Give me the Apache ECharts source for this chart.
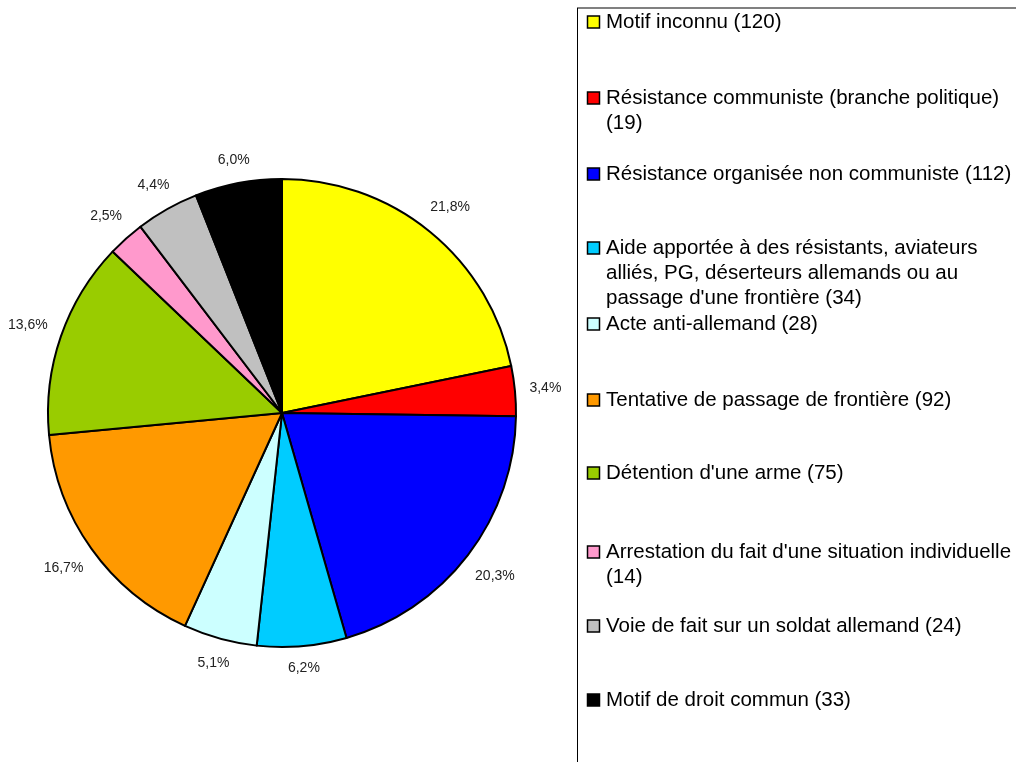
<!DOCTYPE html>
<html><head><meta charset="utf-8">
<script src="https://cdn.jsdelivr.net/npm/echarts@6/dist/echarts.min.js"></script>
<style>html,body{margin:0;padding:0;background:#fff}#c{width:1016px;height:762px}</style>
</head><body><div id="c"></div>
<script>
const categories = [
  "Motif inconnu (120)",
  "Résistance communiste (branche politique)\n(19)",
  "Résistance organisée non communiste (112)",
  "Aide apportée à des résistants, aviateurs\nalliés, PG, déserteurs allemands ou au\npassage d'une frontière (34)",
  "Acte anti-allemand (28)",
  "Tentative de passage de frontière (92)",
  "Détention d'une arme (75)",
  "Arrestation du fait d'une situation individuelle\n(14)",
  "Voie de fait sur un soldat allemand (24)",
  "Motif de droit commun (33)"
];
const values = [120, 19, 112, 34, 28, 92, 75, 14, 24, 33];
const colors = ["#FFFF00","#FF0000","#0000FF","#00CCFF","#CCFFFF","#FF9900","#99CC00","#FF99CC","#C0C0C0","#000000"];
const legendY = [22, 98, 174, 248, 324, 400, 473, 552, 626, 700];

const FONT = '"Liberation Sans", Arial, sans-serif';
const R = 234;
const total = values.reduce((a,b)=>a+b,0);
const pct = v => (v/total*100).toFixed(1).replace('.', ',') + '%';

// label placement outside the pie, box edge a small gap from the rim
const ctx = document.createElement('canvas').getContext('2d');
ctx.font = '14px ' + FONT;
let cum = 0;
const data = values.map((v,i)=>{
  const mid = (cum + v/2) / total * 2 * Math.PI; cum += v;
  const sx = Math.sin(mid), sy = -Math.cos(mid);
  const w = ctx.measureText(pct(v)).width, h = 14, gap = 11;
  const extra = R/2 + gap + Math.abs(sx)*w/2 + Math.abs(sy)*h/2;
  return {name:categories[i], value:v, itemStyle:{color:colors[i]},
          label:{offset:[sx*extra, sy*extra]}};
});

const graphic = [
  {type:'line', shape:{x1:577,y1:8,x2:1016,y2:8}, style:{stroke:'#808080', lineWidth:2}},
  {type:'line', shape:{x1:577.5,y1:8,x2:577.5,y2:762}, style:{stroke:'#000', lineWidth:1}}
];
categories.forEach((c,i)=>{
  graphic.push({type:'rect', shape:{x:587.5,y:legendY[i]-6,width:12,height:12}, style:{fill:colors[i], stroke:'#000', lineWidth:1.5}});
  graphic.push({type:'text', x:606, y:legendY[i]-12.5, style:{text:c, font:'20.5px ' + FONT, fill:'#000', lineHeight:25, verticalAlign:'top'}});
});

const chart = echarts.init(document.getElementById('c'), null, {renderer:'canvas'});
chart.setOption({
  animation:false,
  backgroundColor:'#fff',
  series:[{
    type:'pie', center:[282,413], radius:[0,R], startAngle:90, clockwise:true,
    data:data, silent:true,
    itemStyle:{borderColor:'#000', borderWidth:2},
    label:{show:true, position:'inside', formatter:p=>pct(p.value), fontFamily:FONT, fontSize:14, color:'#222'},
    labelLine:{show:false}
  }],
  graphic:graphic
});
</script></body></html>
